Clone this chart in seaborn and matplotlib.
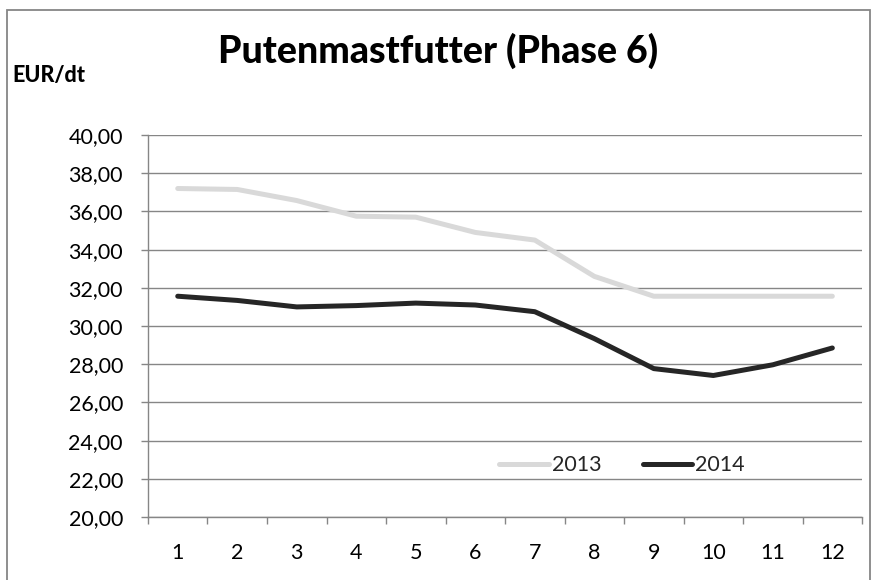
import numpy as np
import pandas as pd
import matplotlib
matplotlib.use("Agg")
import matplotlib.pyplot as plt
import seaborn as sns
from matplotlib.patches import Rectangle
from matplotlib.ticker import FixedLocator, FuncFormatter

# Daten
months = list(range(1, 13))
values_2013 = [37.20, 37.15, 36.57, 35.75, 35.70, 34.90, 34.50, 32.60, 31.56, 31.56, 31.56, 31.56]
values_2014 = [31.56, 31.34, 31.00, 31.07, 31.20, 31.10, 30.75, 29.34, 27.77, 27.41, 27.97, 28.85]
years = ["2013", "2014"]
colors = {"2013": "#D9D9D9", "2014": "#262626"}

df = pd.DataFrame({
    "Monat": months * 2,
    "Preis": values_2013 + values_2014,
    "Jahr": ["2013"] * 12 + ["2014"] * 12,
})

sns.set_theme(style="white")
plt.rcParams["font.family"] = ["Lato", "DejaVu Sans"]

fig = plt.figure(figsize=(8.73, 5.8), dpi=100)
ax = fig.add_axes([0.1695, 0.1086, 0.818, 0.6586])

sns.lineplot(data=df, x="Monat", y="Preis", hue="Jahr", hue_order=years,
             palette=colors, linewidth=3.6, ax=ax, legend=True)

ax.set_xlim(0.5, 12.5)
ax.set_ylim(20, 40)
ax.set_xlabel("")
ax.set_ylabel("")

# Achsen
ax.yaxis.set_major_locator(FixedLocator(np.arange(20, 41, 2)))
ax.yaxis.set_major_formatter(FuncFormatter(lambda v, p: f"{v:.2f}".replace(".", ",")))
ax.xaxis.set_major_locator(FixedLocator(months))
ax.xaxis.set_minor_locator(FixedLocator(np.arange(0.5, 13, 1)))
ax.tick_params(axis="x", which="major", length=0, pad=19, labelsize=15.5)
ax.tick_params(axis="x", which="minor", length=5, width=1, color="#868686", direction="out", bottom=True)
ax.tick_params(axis="y", which="major", length=5, width=1, color="#868686", direction="out",
               left=True, pad=13, labelsize=15.5)
for lbl in ax.get_xticklabels() + ax.get_yticklabels():
    lbl.set_color("#000000")

ax.grid(axis="y", color="#868686", linewidth=1)
ax.grid(axis="x", visible=False)
ax.set_axisbelow(True)
for side in ["top", "right"]:
    ax.spines[side].set_visible(False)
for side in ["left", "bottom"]:
    ax.spines[side].set_color("#868686")
    ax.spines[side].set_linewidth(1)

# Legende
leg = ax.legend(loc="center", bbox_to_anchor=(0.664, 0.136), ncol=2, frameon=False,
                handlelength=2.3, handletextpad=0.15, columnspacing=1.9, fontsize=15.5)
for line in leg.get_lines():
    line.set_linewidth(3.6)

# Titel und Einheit
fig.text(0.502, 0.913, "Putenmastfutter (Phase 6)", ha="center", va="center",
         fontsize=27, fontweight="black", color="#000000")
fig.text(0.014, 0.870, "EUR/dt", ha="left", va="center", fontsize=15.5,
         fontweight="black", color="#000000")

# Rahmen des Diagrammbereichs
fig.patches.append(Rectangle((0.008, -0.05), 0.988, 1.033, transform=fig.transFigure,
                             fill=False, edgecolor="#868686", linewidth=1.3))

fig.savefig("out.png", dpi=100)
